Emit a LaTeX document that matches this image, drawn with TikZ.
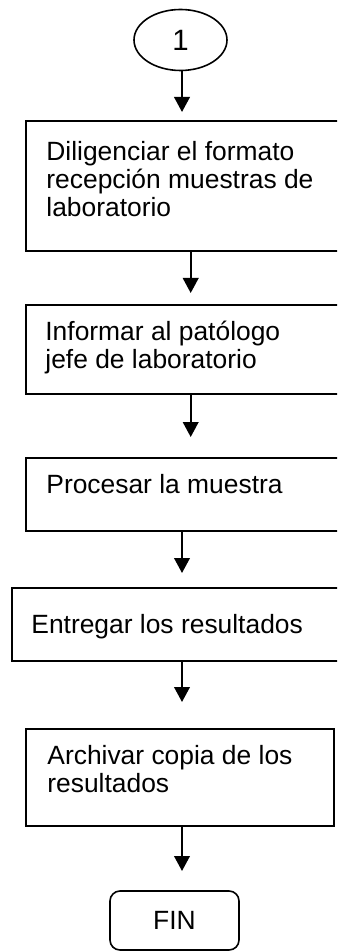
\documentclass[tikz,border=0pt]{standalone}
\usepackage{fontspec}
\setmainfont{Liberation Sans}
\usetikzlibrary{shapes.geometric,arrows.meta,fit}
\begin{document}
\begin{tikzpicture}[x=0.5pt,y=-0.5pt,
  every node/.style={font=\fontsize{13.2}{14}\selectfont},
  boxst/.style={draw, line width=1pt, inner sep=0pt},
  lbl/.style={inner sep=0pt, align=left, anchor=base west},
  arr/.style={line width=1pt, -{Triangle[width=7.8pt,length=7.5pt]}}]
\path[use as bounding box, clip] (0,0) rectangle (337,951);
\fill[white] (0,0) rectangle (337,951);
\node[draw, ellipse, line width=0.8pt, minimum width=46.5pt, minimum height=30.5pt, inner sep=0pt, font=\fontsize{14.7}{16}\selectfont] (e) at (180.5,40) {1};
\node[boxst, fit={(26,121) (345,251)}] (b1) {};
\node[boxst, fit={(26,305) (345,394)}] (b2) {};
\node[boxst, fit={(26,458) (345,531)}] (b3) {};
\node[boxst, fit={(12,588) (345,661)}] (b4) {};
\node[boxst, fit={(26,729) (334,826)}] (b5) {};
\node[draw, rounded corners=5pt, line width=0.8pt, minimum width=64.5pt, minimum height=29.5pt, inner sep=0pt] (fin) at (174.5,920.5) {FIN};
\node[lbl] (l1) at (46,217) {Diligenciar el formato\\recepción muestras de\\laboratorio};
\node[lbl] (l2) at (45,369) {Informar al patólogo\\jefe de laboratorio};
\node[lbl] (l3) at (46,493) {Procesar la muestra};
\node[lbl] (l4) at (31,633) {Entregar los resultados};
\node[lbl] (l5) at (47,792) {Archivar copia de los\\resultados};
\coordinate (t1) at (182,112);
\coordinate (t2) at (190.7,293);
\coordinate (t3) at (190.7,437);
\coordinate (t4) at (182,573);
\coordinate (t5) at (182,702);
\coordinate (t6) at (182,871);
\draw[arr] (e.south -| t1) -- (t1);
\draw[arr] (b1.south -| t2) -- (t2);
\draw[arr] (b2.south -| t3) -- (t3);
\draw[arr] (b3.south -| t4) -- (t4);
\draw[arr] (b4.south -| t5) -- (t5);
\draw[arr] (b5.south -| t6) -- (t6);
\end{tikzpicture}
\end{document}
